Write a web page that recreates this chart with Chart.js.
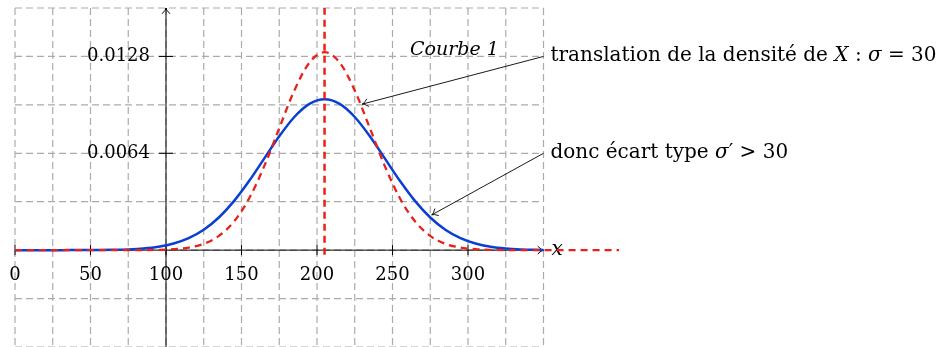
<!DOCTYPE html>
<html>
<head>
<meta charset="utf-8">
<script src="https://cdn.jsdelivr.net/npm/chart.js@4.4.0/dist/chart.umd.min.js"></script>
<style>
html, body { margin: 0; padding: 0; background: #fff; }
canvas { display: block; }
</style>
</head>
<body>
<canvas id="densite" width="940" height="347"></canvas>
<script>
'use strict';

// densité translatée de X (sigma = 30), centrée en 205
const redX = [0, 5, 15, 25, 35, 45, 55, 65, 75, 85, 95, 105, 115, 125, 135, 145, 155, 165, 175, 185, 195,
              205, 215, 225, 235, 245, 255, 265, 275, 285, 295, 305, 315, 325, 335, 345, 355, 365, 375, 385, 395, 400];
const redY = [0, 0, 0, 0, 0, 0, 0, 0, 0, 0.0000057, 0.0000196, 0.0000606, 0.000168, 0.000419, 0.000939, 0.001889,
              0.003412, 0.005535, 0.008064, 0.010550, 0.012396, 0.013080, 0.012396, 0.010550, 0.008064, 0.005535,
              0.003412, 0.001889, 0.000939, 0.000419, 0.000168, 0.0000606, 0.0000196, 0.0000057, 0, 0, 0, 0, 0, 0, 0, 0];

// Courbe 1 : même centre, plus étalée
const blueX = [0, 5, 15, 25, 35, 45, 55, 65, 75, 85, 95, 105, 115, 125, 135, 145, 155, 165, 175, 185, 195,
               205, 215, 225, 235, 245, 255, 265, 275, 285, 295, 305, 315, 325, 335, 345, 350];
const blueY = [0, 0, 0, 0, 0.0000012, 0.0000033, 0.0000088, 0.0000218, 0.0000507, 0.000111, 0.000227, 0.000438,
               0.000793, 0.001349, 0.002156, 0.003237, 0.004565, 0.006047, 0.007526, 0.008799, 0.009663, 0.009970,
               0.009663, 0.008799, 0.007526, 0.006047, 0.004565, 0.003237, 0.002156, 0.001349, 0.000793, 0.000438,
               0.000227, 0.000111, 0.0000507, 0.0000218, 0.0000140];

// droite verticale x = 205
const meanX = [205, 205];
const meanY = [-0.0003, 0.016];

const xTicks = [0, 50, 100, 150, 200, 250, 300];
const yTicks = [0.0064, 0.0128];
const yTickLabels = ['0.0064', '0.0128'];
const xGrid = [0, 25, 50, 75, 100, 125, 150, 175, 200, 225, 250, 275, 300, 325, 350];
const yGrid = [-0.0064, -0.0032, 0, 0.0032, 0.0064, 0.0096, 0.0128, 0.016];

const FONT = '"DejaVu Serif", "Liberation Serif", serif';

function pts(xs, ys) {
    return xs.map((x, i) => ({ x: x, y: ys[i] }));
}

function arrowHead(ctx, x1, y1, x2, y2, len) {
    const a = Math.atan2(y2 - y1, x2 - x1);
    ctx.beginPath();
    ctx.moveTo(x2 - len * Math.cos(a - 0.6), y2 - len * Math.sin(a - 0.6));
    ctx.quadraticCurveTo(x2 - 2 * Math.cos(a), y2 - 2 * Math.sin(a), x2, y2);
    ctx.quadraticCurveTo(x2 - 2 * Math.cos(a), y2 - 2 * Math.sin(a),
                         x2 - len * Math.cos(a + 0.6), y2 - len * Math.sin(a + 0.6));
    ctx.stroke();
}

// texte mélangeant romain et italique (variables mathématiques)
function mixedText(ctx, parts, x, y, size) {
    let cx = x;
    parts.forEach(p => {
        ctx.font = (p[1] ? 'italic ' : '') + size + 'px ' + FONT;
        ctx.fillText(p[0], cx, y);
        cx += ctx.measureText(p[0]).width;
    });
}

const repere = {
    id: 'repere',
    beforeDatasetsDraw(chart) {
        const ctx = chart.ctx;
        const sx = chart.scales.x, sy = chart.scales.y;
        const left = sx.getPixelForValue(0), right = sx.getPixelForValue(350);
        const top = sy.getPixelForValue(0.016), bottom = sy.getPixelForValue(-0.0064);
        const x0 = sx.getPixelForValue(100), y0 = sy.getPixelForValue(0);

        ctx.save();
        // quadrillage
        ctx.strokeStyle = '#ababab';
        ctx.lineWidth = 1.2;
        ctx.setLineDash([7, 4]);
        xGrid.forEach(v => {
            const p = sx.getPixelForValue(v);
            ctx.beginPath(); ctx.moveTo(p, top); ctx.lineTo(p, bottom); ctx.stroke();
        });
        yGrid.forEach(v => {
            const p = sy.getPixelForValue(v);
            ctx.beginPath(); ctx.moveTo(left, p); ctx.lineTo(right, p); ctx.stroke();
        });

        // axes
        ctx.setLineDash([]);
        ctx.strokeStyle = '#000';
        ctx.lineWidth = 1;
        ctx.beginPath(); ctx.moveTo(left, y0); ctx.lineTo(right, y0); ctx.stroke();
        arrowHead(ctx, left, y0, right, y0, 7);
        ctx.beginPath(); ctx.moveTo(x0, bottom); ctx.lineTo(x0, top); ctx.stroke();
        arrowHead(ctx, x0, bottom, x0, top, 7);

        ctx.fillStyle = '#000';
        ctx.font = '18px ' + FONT;
        ctx.textAlign = 'center';
        ctx.textBaseline = 'alphabetic';
        xTicks.forEach(v => {
            const p = sx.getPixelForValue(v);
            ctx.beginPath(); ctx.moveTo(p, y0 - 5); ctx.lineTo(p, y0 + 5); ctx.stroke();
            ctx.fillText(String(v), p, y0 + 30);
        });
        ctx.textAlign = 'right';
        ctx.textBaseline = 'middle';
        yTicks.forEach((v, i) => {
            const p = sy.getPixelForValue(v);
            ctx.beginPath(); ctx.moveTo(x0 - 7, p); ctx.lineTo(x0 + 7, p); ctx.stroke();
            ctx.fillText(yTickLabels[i], x0 - 16, p);
        });

        ctx.textAlign = 'left';
        ctx.textBaseline = 'alphabetic';
        ctx.font = 'italic 20px ' + FONT;
        ctx.fillText('x', right + 8, y0 + 5);
        ctx.restore();
    },
    afterDatasetsDraw(chart) {
        const ctx = chart.ctx;
        const sx = chart.scales.x, sy = chart.scales.y;
        ctx.save();
        ctx.strokeStyle = '#000';
        ctx.fillStyle = '#000';
        ctx.lineWidth = 0.9;

        const fleches = [
            { from: [350, 0.0128], to: [230, 0.00965],
              txt: [['translation de la densité de ', false], ['X', true], [' : ', false], ['σ', true], [' = 30', false]] },
            { from: [350, 0.0064], to: [276, 0.00233],
              txt: [['donc écart type ', false], ['σ', true], ['′', false], [' > 30', false]] }
        ];
        fleches.forEach(f => {
            const ax = sx.getPixelForValue(f.from[0]), ay = sy.getPixelForValue(f.from[1]);
            const bx = sx.getPixelForValue(f.to[0]), by = sy.getPixelForValue(f.to[1]);
            ctx.beginPath(); ctx.moveTo(ax, ay); ctx.lineTo(bx, by); ctx.stroke();
            arrowHead(ctx, ax, ay, bx, by, 7);
            ctx.textAlign = 'left';
            mixedText(ctx, f.txt, ax + 7, ay + 5, 20);
        });

        ctx.textAlign = 'center';
        ctx.font = 'italic 19px ' + FONT;
        ctx.fillText('Courbe 1', sx.getPixelForValue(291), sy.getPixelForValue(0.0129));
        ctx.restore();
    }
};

let Densite = function(){

    var _draw = function(){
        var ctx = document.getElementById('densite').getContext('2d');
        var config = {
            type : 'line',
            data : {
                datasets : [{
                    label : 'translation de la densité de X',
                    data : pts(redX, redY),
                    borderColor : '#e8221b',
                    borderWidth : 2.3,
                    borderDash : [7, 5],
                    cubicInterpolationMode : 'monotone',
                    pointRadius : 0,
                    fill : false
                }, {
                    label : 'x = 205',
                    data : pts(meanX, meanY),
                    borderColor : '#e8221b',
                    borderWidth : 2.5,
                    borderDash : [7, 5],
                    pointRadius : 0,
                    fill : false
                }, {
                    label : 'Courbe 1',
                    data : pts(blueX, blueY),
                    borderColor : '#0a3fd2',
                    borderWidth : 2.5,
                    cubicInterpolationMode : 'monotone',
                    pointRadius : 0,
                    fill : false
                }]
            },
            options : {
                responsive : false,
                devicePixelRatio : 1,
                animation : false,
                events : [],
                layout : { padding : { left : 15, right : 321, top : 8, bottom : 0 } },
                scales : {
                    x : { type : 'linear', min : 0, max : 400, display : false },
                    y : { type : 'linear', min : -0.0064, max : 0.016, display : false }
                },
                plugins : {
                    legend : { display : false },
                    tooltip : { enabled : false }
                }
            },
            plugins : [repere]
        };
        window.densite = new Chart(ctx, config);
    };

    return {
        init : function(){
            _draw();
        }
    }
}();

document.addEventListener('DOMContentLoaded', function(){
    Densite.init();
});
</script>
</body>
</html>
